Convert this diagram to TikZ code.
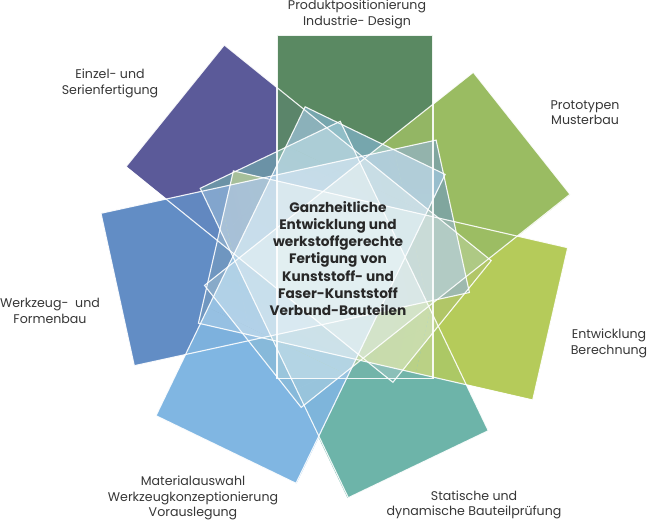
\documentclass[tikz,border=0pt]{standalone}
\usepackage{fontspec}
\setmainfont{Poppins}
\usetikzlibrary{fadings}
\definecolor{cA}{RGB}{68,121,77}
\definecolor{cB}{RGB}{141,179,77}
\definecolor{cC}{RGB}{171,196,68}
\definecolor{cD}{RGB}{89,170,158}
\definecolor{cE}{RGB}{111,172,222}
\definecolor{cF}{RGB}{77,126,190}
\definecolor{cG}{RGB}{69,68,140}
\definecolor{wtint}{RGB}{238,247,248}
\definecolor{txt}{RGB}{55,55,55}
\definecolor{ctxt}{RGB}{40,40,40}
\def\shpA{(277,35.5) -- (433,35.5) -- (433,378.5) -- (277,378.5) -- cycle}
\def\shpB{(473.3,72.3) -- (570,194.3) -- (301.2,407.4) -- (204.5,285.4) -- cycle}
\def\shpC{(567.7,247.7) -- (532.7,400) -- (198.4,323.2) -- (233.4,170.9) -- cycle}
\def\shpD{(488.3,430.7) -- (348.3,497.7) -- (200.2,188.3) -- (340.2,121.3) -- cycle}
\def\shpE{(156,415.7) -- (296,483.3) -- (445.1,174.4) -- (305.1,106.8) -- cycle}
\def\shpF{(101,213.3) -- (134.3,365.7) -- (469.4,292.5) -- (436.1,140.1) -- cycle}
\def\shpG{(224.3,45) -- (126,166.7) -- (392.9,382.3) -- (491.2,260.6) -- cycle}
\newcommand\whiteov[2]{\begin{scope}\clip #1;\fill[wtint,fill opacity=0.125] #2;\end{scope}}
\begin{tikzfadingfrompicture}[name=petalfade]
  \fill[transparent!0] (-200pt,-120pt) rectangle (200pt,400pt);
  \shade[top color=transparent!0,bottom color=transparent!40] (-200pt,-300pt) rectangle (200pt,-120pt);
  \fill[transparent!40] (-200pt,-400pt) rectangle (200pt,-300pt);
\end{tikzfadingfrompicture}
\tikzset{
  petal/.style={fill opacity=0.88,path fading=petalfade,fit fading=false},
  outl/.style={draw=white,line width=1.1pt,draw opacity=0.9,line join=miter},
  lbl/.style={text=txt,align=center,inner sep=0pt,font=\fontsize{12.6}{15.5}\selectfont},
  ctr/.style={text=ctxt,align=center,inner sep=0pt,font=\bfseries\fontsize{13.7}{17.2}\selectfont}
}
\newcommand\petalfill[6]{%
  \begin{scope}[transform canvas={cm={#2,#3,#4,#5,#6}}]
    \fill[#1,petal] (0pt,0pt) rectangle (156pt,-343pt);
  \end{scope}}
\begin{document}
\begin{tikzpicture}[x=1pt,y=-1pt]
\fill[white] (0,0) rectangle (647,521);
\useasboundingbox (0,0) rectangle (647,521);
% coloured petals, fading towards the centre
\petalfill{cG}{-0.6285}{-0.778}{-0.778}{0.6285}{(224.3pt,-45pt)}
\petalfill{cA}{1}{0}{0}{1}{(277pt,-35.5pt)}
\petalfill{cD}{-0.902}{-0.4317}{0.4317}{-0.902}{(488.3pt,-430.7pt)}
\petalfill{cC}{-0.224}{-0.9746}{0.9746}{-0.224}{(567.7pt,-247.7pt)}
\petalfill{cB}{0.6212}{-0.7837}{0.7837}{0.6212}{(473.3pt,-72.3pt)}
\petalfill{cF}{0.2135}{-0.977}{-0.977}{-0.2135}{(101pt,-213.3pt)}
\petalfill{cE}{0.9005}{-0.4348}{-0.4348}{-0.9005}{(156pt,-415.7pt)}
% whitening of overlaps
\whiteov\shpA\shpB \whiteov\shpA\shpC \whiteov\shpA\shpD \whiteov\shpA\shpE
\whiteov\shpA\shpF \whiteov\shpA\shpG
\whiteov\shpB\shpC \whiteov\shpB\shpD \whiteov\shpB\shpE \whiteov\shpB\shpF
\whiteov\shpB\shpG
\whiteov\shpC\shpD \whiteov\shpC\shpE \whiteov\shpC\shpF \whiteov\shpC\shpG
\whiteov\shpD\shpE \whiteov\shpD\shpF \whiteov\shpD\shpG
\whiteov\shpE\shpF \whiteov\shpE\shpG
\whiteov\shpF\shpG
% outlines
\draw[outl] \shpA; \draw[outl] \shpB; \draw[outl] \shpC; \draw[outl] \shpD;
\draw[outl] \shpE; \draw[outl] \shpF; \draw[outl] \shpG;
% texts
\node[ctr] (center) at (338,258.5) {Ganzheitliche\\Entwicklung und\\werkstoffgerechte\\Fertigung von\\Kunststoff- und\\Faser-Kunststoff\\Verbund-Bauteilen};
\node[lbl] (lA) at (357,14.5) {Produktpositionierung\\Industrie- Design};
\node[lbl] (lB) at (585,112.5) {Prototypen\\Musterbau};
\node[lbl] (lC) at (609,343.5) {Entwicklung\\Berechnung};
\node[lbl] (lD) at (474,505) {Statische und\\dynamische Bauteilprüfung};
\node[lbl] (lE) at (193,498) {Materialauswahl\\Werkzeugkonzeptionierung\\Vorauslegung};
\node[lbl] (lF) at (50,311) {Werkzeug-\ \ und\\Formenbau};
\node[lbl] (lG) at (110,83.5) {Einzel- und\\Serienfertigung};
\end{tikzpicture}
\end{document}
